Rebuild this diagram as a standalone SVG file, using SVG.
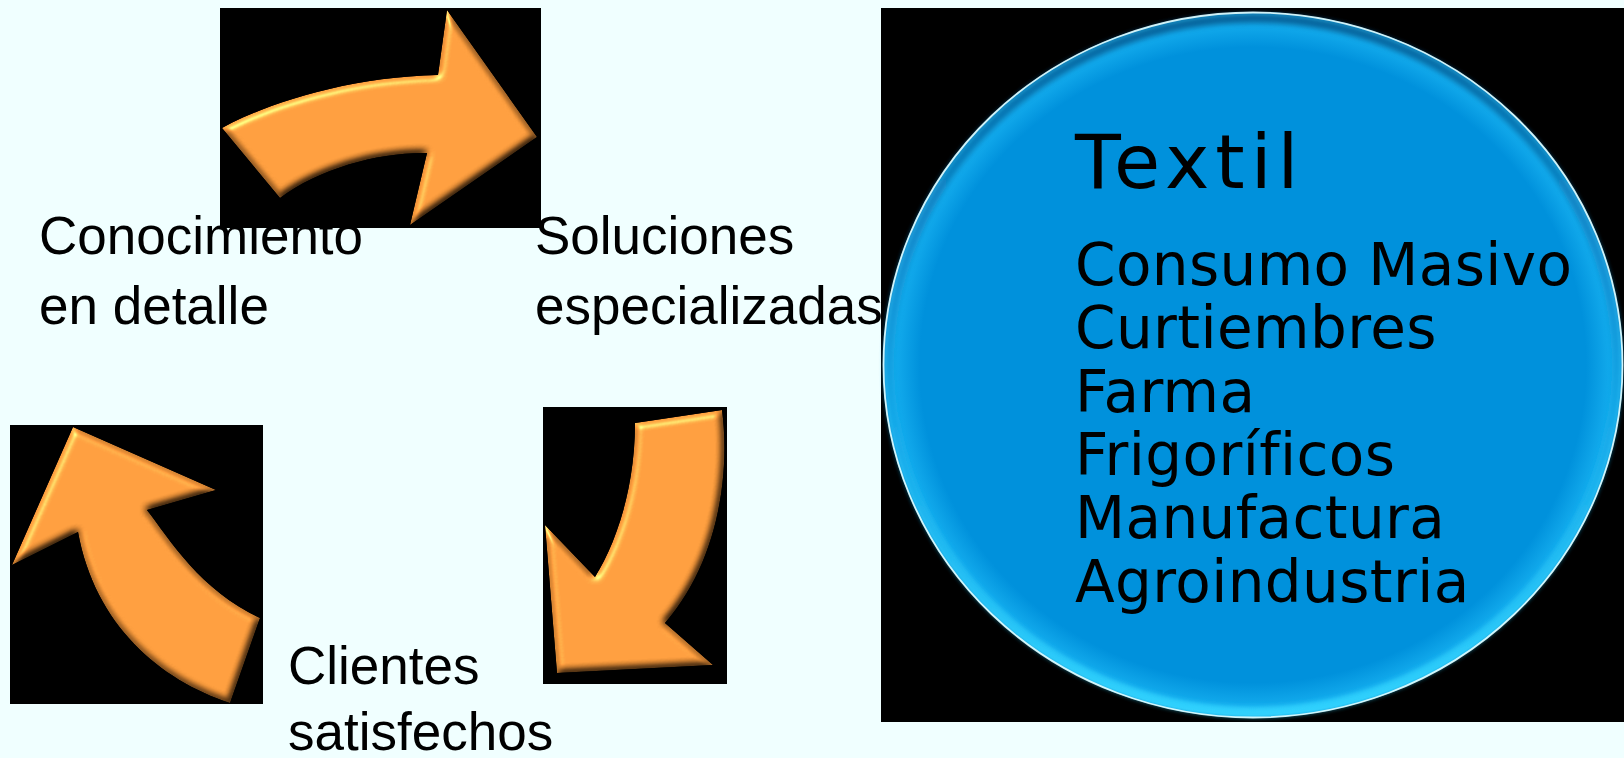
<svg xmlns="http://www.w3.org/2000/svg" width="1624" height="758" viewBox="0 0 1624 758">
<style>
.bg{fill:#F0FFFF}
.panel{fill:#000}
.arrow{fill:#F7983A;filter:url(#bevel)}
.lbl{font-family:"Liberation Sans",Arial,sans-serif;font-size:53px;fill:#000}
.sec{font-family:"DejaVu Sans",Verdana,sans-serif;font-size:58px;letter-spacing:0.4px;fill:#000}
.title{font-family:"DejaVu Sans",Verdana,sans-serif;font-size:75px;letter-spacing:6px;fill:#000}
</style>
<defs>
<filter id="bevel" x="-5%" y="-5%" width="110%" height="110%" color-interpolation-filters="sRGB">
<feGaussianBlur in="SourceAlpha" stdDeviation="3.5" result="b"/>
<feDiffuseLighting in="b" surfaceScale="5" diffuseConstant="1" lighting-color="#ffffff" result="d">
<feDistantLight azimuth="235" elevation="62"/>
</feDiffuseLighting>
<feSpecularLighting in="b" surfaceScale="5" specularConstant="0.7" specularExponent="22" lighting-color="#ffe2b0" result="s">
<feDistantLight azimuth="235" elevation="40"/>
</feSpecularLighting>
<feComposite in="s" in2="SourceAlpha" operator="in" result="s2"/>
<feComposite in="SourceGraphic" in2="d" operator="arithmetic" k1="1.12" k2="0" k3="0" k4="0" result="shaded"/>
<feComposite in="shaded" in2="s2" operator="arithmetic" k1="0" k2="1" k3="0.55" k4="0" result="lit"/>
<feComposite in="lit" in2="SourceAlpha" operator="in"/>
</filter>
<radialGradient id="blueFill" cx="0.5" cy="0.5" r="0.5">
<stop offset="0" stop-color="#0091DC"/>
<stop offset="0.9" stop-color="#0091DC"/>
<stop offset="0.965" stop-color="#12AAEC"/>
<stop offset="0.99" stop-color="#36CCF8"/>
<stop offset="1" stop-color="#1090D0"/>
</radialGradient>
<linearGradient id="rimGrad" x1="0" y1="0" x2="0" y2="1">
<stop offset="0" stop-color="#00558F"/>
<stop offset="0.35" stop-color="#0A86CC"/>
<stop offset="0.6" stop-color="#12A6E8"/>
<stop offset="1" stop-color="#30D4FF"/>
</linearGradient>
<filter id="soft" x="-5%" y="-5%" width="110%" height="110%">
<feGaussianBlur stdDeviation="2.5"/>
</filter>
</defs>
<rect class="bg" x="0" y="0" width="1624" height="758"/>

<g id="connectors">
<g id="arrow-top">
<rect class="panel" x="220" y="8" width="321" height="220"/>
<path class="arrow" d="M222,128 C270,102 350,77 438,75 L447,10 L537,137 L410,225 L427,153 C380,152 320,168 280,198 Z"/>
</g>
<g id="arrow-right">
<rect class="panel" x="543" y="407" width="184" height="277"/>
<path class="arrow" d="M635,423 L722,410 C730,470 720,560 665,623 L713,665 L557,673 L545,525 L595,577 C615,545 635,490 635,423 Z"/>
</g>
<g id="arrow-left">
<rect class="panel" x="10" y="425" width="253" height="279"/>
<path class="arrow" d="M73,427 L216,490 L147,510 C170,540 200,590 260,618 L230,703 C160,680 95,625 78,532 L12,565 Z"/>
</g>
</g>

<g id="node-conocimiento">
<text class="lbl" x="39" y="254">Conocimiento</text>
<text class="lbl" x="39" y="324">en detalle</text>
</g>
<g id="node-soluciones">
<text class="lbl" x="535" y="254">Soluciones</text>
<text class="lbl" x="535" y="324">especializadas</text>
</g>
<g id="node-clientes">
<text class="lbl" x="288" y="684">Clientes</text>
<text class="lbl" x="288" y="750">satisfechos</text>
</g>

<g id="node-sectores">
<rect class="panel" x="881" y="8" width="743" height="714"/>
<ellipse cx="1253" cy="365" rx="370" ry="353" fill="url(#blueFill)"/>
<ellipse cx="1253" cy="365" rx="364" ry="347" fill="none" stroke="url(#rimGrad)" stroke-width="10" opacity="0.85" filter="url(#soft)"/>
<ellipse cx="1253" cy="365" rx="369.5" ry="352.5" fill="none" stroke="#E6FFFF" stroke-width="1.8" opacity="0.9"/>
<text class="title" x="1075" y="188">Textil</text>
<text class="sec" x="1075" y="285">Consumo Masivo</text>
<text class="sec" x="1075" y="348.3">Curtiembres</text>
<text class="sec" x="1075" y="411.6">Farma</text>
<text class="sec" x="1075" y="474.9">Frigoríficos</text>
<text class="sec" x="1075" y="538.2">Manufactura</text>
<text class="sec" x="1075" y="601.5">Agroindustria</text>
</g>
</svg>
